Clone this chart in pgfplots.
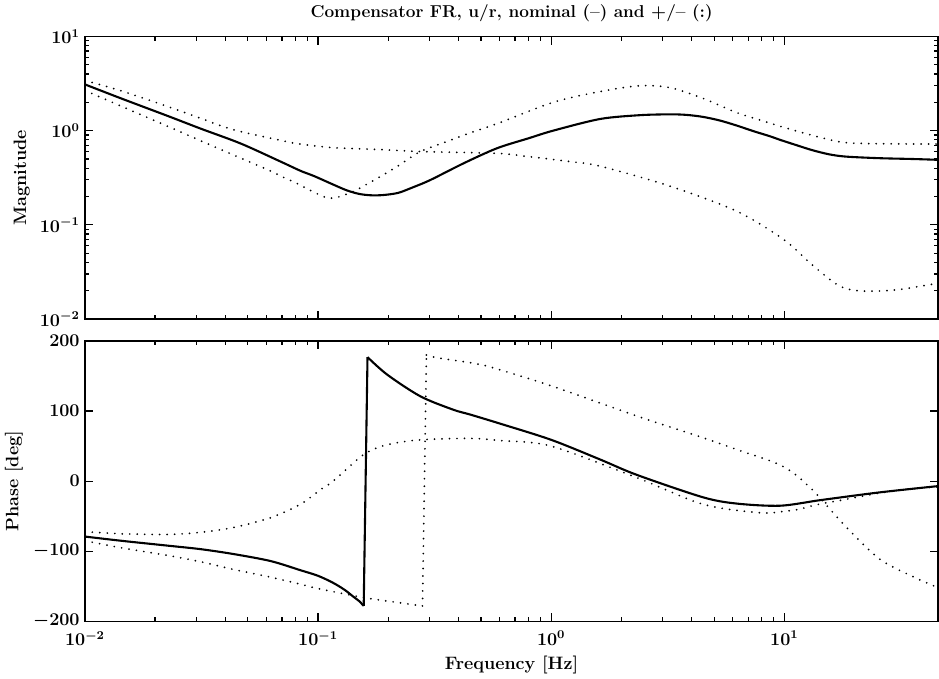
\documentclass[border=0pt]{standalone}
\usepackage{pgfplots}
\pgfplotsset{compat=1.18}
\tikzset{
  nom/.style={black, line width=1.4pt},
  unc/.style={black, line width=1.3pt, line cap=round, dash pattern=on 0pt off 5pt},
}
\begin{document}
\begin{tikzpicture}[font=\fontsize{12}{14}\selectfont\bfseries]

% magnitude
\begin{axis}[name=mag, scale only axis, width=570pt, height=188.7pt,
    xmode=log, xmin=0.01, xmax=45.7, xtick={0.01,0.1,1,10},
    ymode=log, ymin=0.01, ymax=10, ytick={0.01,0.1,1,10},
    axis line style={line width=1.1pt},
    tick style={black, line width=0.8pt},
    major tick length=5.5pt, minor tick length=2.8pt, tick align=inside,
    ticklabel style={font=\fontsize{12}{14}\selectfont\bfseries\boldmath},
    label style={font=\fontsize{12}{14}\selectfont\bfseries},
    title style={font=\fontsize{11.5}{13}\selectfont\bfseries},
    xticklabels={},
    ylabel={Magnitude},
    title={Compensator FR, u/r, nominal (--) and +/-- (:)}]
\addplot[nom, no marks, smooth] coordinates {
 (0.01,3.1)(0.0143,2.2)(0.0227,1.43)(0.0314,1.05)(0.0466,0.73)(0.069,0.47)
 (0.084,0.375)(0.096,0.33)(0.116,0.268)(0.133,0.232)(0.15,0.213)(0.168,0.206)
 (0.19,0.207)(0.22,0.218)(0.25,0.245)(0.303,0.299)(0.421,0.45)(0.585,0.65)
 (0.8,0.83)(1.02,1.0)(1.62,1.33)(2.4,1.46)(3.24,1.49)(3.81,1.47)(4.48,1.40)
 (5.3,1.28)(6.27,1.13)(7.35,0.99)(8.7,0.87)(9.57,0.80)(11.3,0.70)(13.2,0.62)
 (15.6,0.56)(18.4,0.53)(25.6,0.51)(35.5,0.50)(45.7,0.49)
};
\addplot[unc, no marks, smooth] coordinates {
 (0.01,3.41)(0.0143,2.65)(0.0227,1.8)(0.0314,1.35)(0.0435,1.02)(0.069,0.79)
 (0.084,0.72)(0.116,0.66)(0.185,0.63)(0.275,0.60)(0.588,0.574)(0.8,0.53)
 (1.2,0.47)(1.62,0.42)(3.24,0.257)(6.27,0.139)(10,0.069)(13.2,0.0373)
 (17.3,0.0223)(21.7,0.0198)(30.3,0.0204)(45.7,0.024)
};
\addplot[unc, no marks, smooth] coordinates {
 (0.01,2.67)(0.0143,1.82)(0.0227,1.11)(0.0314,0.78)(0.0435,0.55)(0.0627,0.372)
 (0.069,0.33)(0.081,0.276)(0.096,0.222)(0.109,0.194)(0.119,0.194)(0.133,0.212)
 (0.147,0.236)(0.162,0.27)(0.179,0.31)(0.218,0.415)(0.275,0.60)(0.359,0.77)
 (0.45,0.95)(0.588,1.19)(1.02,2.0)(1.62,2.6)(2.4,3.0)(3.24,2.86)(4.48,2.2)
 (6.27,1.55)(8.7,1.2)(10,1.08)(13.2,0.89)(17.3,0.76)(22,0.73)(45.7,0.72)
};
\end{axis}

% phase
\begin{axis}[at={(mag.south west)}, anchor=north west, yshift=-14.7pt,
    scale only axis, width=570pt, height=187.3pt,
    xmode=log, xmin=0.01, xmax=45.7, xtick={0.01,0.1,1,10},
    ymin=-200, ymax=200, ytick={-200,-100,0,100,200},
    axis line style={line width=1.1pt},
    tick style={black, line width=0.8pt},
    major tick length=5.5pt, minor tick length=2.8pt, tick align=inside,
    ticklabel style={font=\fontsize{12}{14}\selectfont\bfseries\boldmath},
    xticklabel style={yshift=-3pt},
    label style={font=\fontsize{12}{14}\selectfont\bfseries},
    xlabel={Frequency [Hz]},
    ylabel={Phase [deg]}]
\addplot[nom, no marks, smooth] coordinates {
 (0.01,-79)(0.0143,-85)(0.0227,-92)(0.0314,-97)(0.0435,-104)(0.0627,-114)
 (0.084,-127)(0.1,-135)(0.116,-145)(0.13,-155)(0.142,-165)(0.15,-171)(0.157,-178)
};
\addplot[nom, no marks] coordinates {(0.157,-178)(0.163,177)};
\addplot[nom, no marks, smooth] coordinates {
 (0.163,177)(0.198,152)(0.275,121)(0.38,102)(0.45,95)(0.605,82)(1.0,59)
 (1.62,31)(2.33,9)(4.48,-23)(6.27,-32)(9.6,-35)(14.3,-27)(25.6,-16)(45.7,-7)
};
\addplot[unc, no marks, smooth] coordinates {
 (0.01,-72)(0.0143,-75)(0.0227,-76)(0.0314,-73)(0.0435,-66)(0.0627,-52)
 (0.084,-33)(0.1025,-12)(0.116,0)(0.157,38)(0.198,52)(0.275,59)(0.45,61)
 (0.6,58)(1.0,50)(2.33,5)(4.48,-33)(7.85,-45)(10,-43)(11.6,-40)(13.2,-35)
 (15,-31)(17,-28)(25.6,-17)(35,-11)(45.7,-8)
};
\addplot[unc, no marks, smooth] coordinates {
 (0.01,-85)(0.0143,-95)(0.0227,-106)(0.0314,-115)(0.0435,-126)(0.0627,-137)
 (0.084,-147)(0.1025,-154)(0.157,-166)(0.198,-171)(0.2805,-178)
};
\addplot[unc, no marks] coordinates {(0.2805,-178)(0.2917,180)};
\addplot[unc, no marks, smooth] coordinates {
 (0.2917,180)(0.324,176)(0.45,169)(0.56,162)(1.0,136)(2.33,93)(4.48,62)
 (6.27,45)(8.7,29)(10,20)(11.3,8)(12.5,-5)(13.8,-19)(18.5,-66)(25.6,-111)
 (35.5,-136)(45.7,-152)
};
\end{axis}
\end{tikzpicture}
\end{document}
